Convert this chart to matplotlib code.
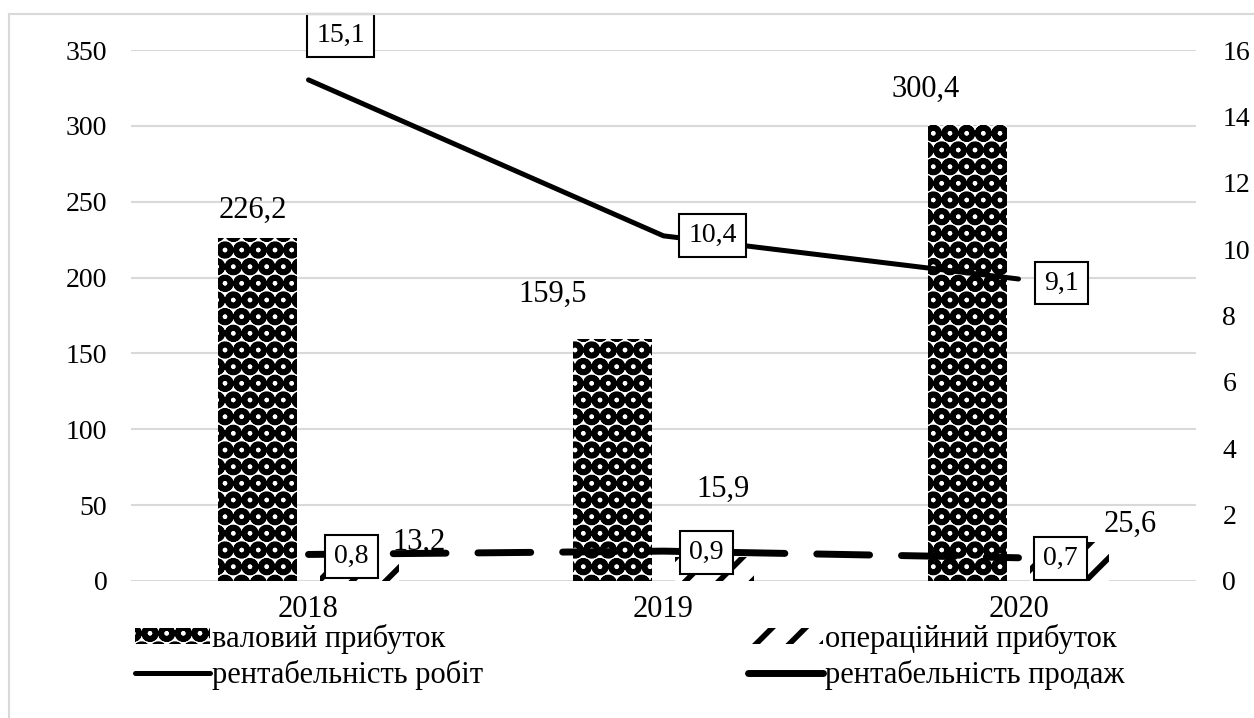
import matplotlib.pyplot as plt
import numpy as np
from matplotlib.lines import Line2D
from matplotlib.patches import Patch

plt.rcParams['font.family'] = ['Liberation Serif', 'DejaVu Serif']
plt.rcParams['font.size'] = 22
plt.rcParams['hatch.linewidth'] = 4.0

years = ['2018', '2019', '2020']
valovyi = [226.2, 159.5, 300.4]
operatsiinyi = [13.2, 15.9, 25.6]
rent_robit = [15.1, 10.4, 9.1]
rent_prodazh = [0.8, 0.9, 0.7]

names = ['валовий прибуток', 'операційний прибуток',
         'рентабельність робіт', 'рентабельність продаж']


def fmt(v):
    return f'{v:.1f}'.replace('.', ',')


W, H = 1254, 718
fig = plt.figure(figsize=(W / 100, H / 100), dpi=100)
ax = fig.add_axes([131 / W, 1 - 581 / H, (1196 - 131) / W, (581 - 50) / H])
ax2 = ax.twinx()

x = np.arange(len(years))
w = 0.222
ax.bar(x - 0.143, valovyi, w, color='white', edgecolor='black', hatch='O', linewidth=0)
ax.bar(x + 0.143, operatsiinyi, w, color='white', edgecolor='black', hatch='/', linewidth=0)

ax.set_xlim(-0.5, 2.5)
ax.set_ylim(0, 350)
ax.set_yticks(np.arange(0, 351, 50))
ax.set_xticks(x)
ax.set_xticklabels(years)
ax.yaxis.grid(True, color='#d9d9d9', lw=1.5)
ax.set_axisbelow(True)
ax.tick_params(axis='y', length=0, pad=17, labelsize=20)
ax.tick_params(axis='x', length=0, pad=10)

ax2.set_ylim(0, 16)
ax2.set_yticks(np.arange(0, 17, 2))
ax2.tick_params(axis='y', length=0, pad=19, labelsize=20)

for a in (ax, ax2):
    for s in a.spines.values():
        s.set_visible(False)

# підписи стовпців (зсув у пікселях від вершини стовпця)
val_off = [(-5, 20), (-60, 37), (-42, 28)]
op_off = [(60, 11), (9, 60), (61, 10)]
for i in range(len(years)):
    ax.annotate(fmt(valovyi[i]), (x[i] - 0.143, valovyi[i]), xytext=val_off[i],
                textcoords='offset pixels', ha='center', va='baseline')
    ax.annotate(fmt(operatsiinyi[i]), (x[i] + 0.143, operatsiinyi[i]), xytext=op_off[i],
                textcoords='offset pixels', ha='center', va='baseline')

ax2.plot(x, rent_robit, color='black', lw=3.6, solid_capstyle='round',
         solid_joinstyle='round')
ax2.plot(x, rent_prodazh, color='black', lw=5, dashes=(7.6, 4.6),
         dash_capstyle='round')

box = dict(boxstyle='square,pad=0.32', fc='white', ec='black', lw=1.5)
rob_off = [(32, 44), (49, 0), (43, -4)]
prod_off = [(43, -2), (43, -1), (42, -1)]
for i in range(len(years)):
    ax2.annotate(fmt(rent_robit[i]), (x[i], rent_robit[i]), xytext=rob_off[i],
                 textcoords='offset pixels', ha='center', va='center',
                 fontsize=20, bbox=box)
    ax2.annotate(fmt(rent_prodazh[i]), (x[i], rent_prodazh[i]), xytext=prod_off[i],
                 textcoords='offset pixels', ha='center', va='center',
                 fontsize=20, bbox=box)

# легенда у два стовпці
h_val = Patch(facecolor='white', edgecolor='black', hatch='O', linewidth=0)
h_op = Patch(facecolor='white', edgecolor='black', hatch='/', linewidth=0)
h_rob = Line2D([], [], color='black', lw=3.6, solid_capstyle='round')
h_prod = Line2D([], [], color='black', lw=5, solid_capstyle='round')
leg_kw = dict(loc='upper left', frameon=False, borderpad=0, borderaxespad=0,
              handlelength=2.45, handleheight=0.45, handletextpad=0.08,
              labelspacing=0.18)
fig.legend([h_val, h_rob], [names[0], names[2]],
           bbox_to_anchor=(135 / W, 1 - 624 / H), **leg_kw)
fig.legend([h_op, h_prod], [names[1], names[3]],
           bbox_to_anchor=(748 / W, 1 - 624 / H), **leg_kw)

# рамка діаграми
border = dict(transform=fig.transFigure, color='#d9d9d9', lw=1.5)
fig.add_artist(Line2D([9 / W, 9 / W], [0, 1 - 14 / H], **border))
fig.add_artist(Line2D([9 / W, 1], [1 - 14 / H, 1 - 14 / H], **border))

fig.savefig('out.png', dpi=100)
